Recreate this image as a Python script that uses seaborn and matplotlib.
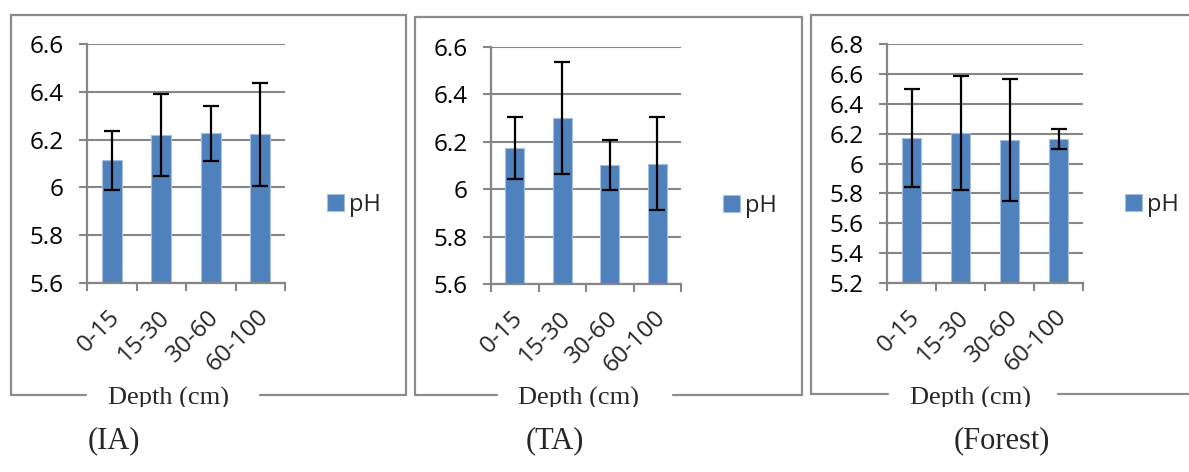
import matplotlib
matplotlib.use("Agg")
import numpy as np
import pandas as pd
import matplotlib.pyplot as plt
import matplotlib.ticker as mticker
from matplotlib.lines import Line2D
from matplotlib.transforms import Bbox, ScaledTranslation
import seaborn as sns

sns.set_style("white")
plt.rcParams['font.family'] = ['Open Sans', 'DejaVu Sans']

# ---- values ----
depths = ["0-15", "15-30", "30-60", "60-100"]

ph_ia = [6.113, 6.220, 6.226, 6.222]
err_ia = [0.122, 0.172, 0.116, 0.216]

ph_ta = [6.175, 6.300, 6.101, 6.108]
err_ta = [0.130, 0.235, 0.106, 0.195]

ph_forest = [6.173, 6.203, 6.158, 6.165]
err_forest = [0.328, 0.380, 0.410, 0.068]

site_names = ["(IA)", "(TA)", "(Forest)"]
y_ranges = [(5.6, 6.6), (5.6, 6.6), (5.2, 6.8)]

# ---- layout (pixels on the 1189x472 canvas) ----
W, H = 1189, 472
BAR = "#4F81BD"
GREY = "#868686"
FRAME = "#8C8C8C"

layout = [
    dict(ax=(87, 44, 285, 283), frame=(11, 15, 406, 395), gap=(86, 260),
         depth_x=168, leg=(327, 205), name_x=114, right_edge=True),
    dict(ax=(491, 47, 681, 284), frame=(415, 17, 802, 395), gap=(497, 673),
         depth_x=578, leg=(723, 206), name_x=555, right_edge=True),
    dict(ax=(887, 44, 1083, 283), frame=(811, 15, 1189, 394), gap=(888, 1058),
         depth_x=971, leg=(1125, 205), name_x=1002, right_edge=False),
]


def fx(px):
    return px / W


def fy(py):
    return 1 - py / H


fig = plt.figure(figsize=(W / 100, H / 100), dpi=100)

series = [(ph_ia, err_ia), (ph_ta, err_ta), (ph_forest, err_forest)]

for (vals, errs), ylim, name, lay in zip(series, y_ranges, site_names, layout):
    l, t, r, b = lay["ax"]
    ax = fig.add_axes([fx(l), fy(b), fx(r - l), (b - t) / H])

    df = pd.DataFrame({"Depth": depths, "pH": vals})
    sns.barplot(data=df, x="Depth", y="pH", color=BAR, saturation=1,
                width=0.4, edgecolor="#A7BFDE", linewidth=0.8, ax=ax)
    ax.errorbar(np.arange(len(depths)), vals, yerr=errs, fmt="none",
                ecolor="black", elinewidth=1.6, capsize=5.5, capthick=1.6,
                zorder=4)

    ax.set_xlim(-0.5, len(depths) - 0.5)
    ax.set_ylim(*ylim)
    ax.yaxis.set_major_locator(mticker.MultipleLocator(0.2))
    ax.yaxis.set_major_formatter(mticker.FuncFormatter(lambda v, p: f"{round(v, 1):g}"))
    ax.set_xlabel("")
    ax.set_ylabel("")

    ax.grid(axis="y", color=GREY, linewidth=1.5)
    ax.set_axisbelow(True)
    for s in ["top", "right"]:
        ax.spines[s].set_visible(False)
    for s in ["left", "bottom"]:
        ax.spines[s].set_color(GREY)
        ax.spines[s].set_linewidth(1.6)

    ax.tick_params(axis="y", length=6, width=1.5, color=GREY, pad=11,
                   labelsize=17.5, labelcolor="black", left=True)
    ax.xaxis.set_minor_locator(mticker.FixedLocator(np.arange(len(depths) + 1) - 0.5))
    ax.tick_params(axis="x", which="minor", length=6, width=1.5, color=GREY,
                   bottom=True)
    ax.tick_params(axis="x", which="major", length=0, pad=22)
    shift = ScaledTranslation(5 / 100, 0, fig.dpi_scale_trans)
    for lab in ax.get_xticklabels():
        lab.set_fontsize(17.5)
        lab.set_rotation(45)
        lab.set_ha("right")
        lab.set_va("center")
        lab.set_rotation_mode("anchor")
        lab.set_transform(lab.get_transform() + shift)

    lx, ly = lay["leg"]
    ax.legend([ax.patches[0]], ["pH"], loc="center left",
              bbox_to_anchor=(fx(lx), fy(ly)), bbox_transform=fig.transFigure,
              frameon=False, fontsize=17, handlelength=0.7, handleheight=0.7,
              handletextpad=0.25, borderpad=0, borderaxespad=0)

    # outer chart frame, open at the bottom for the axis title
    x0, y0, x1, y1 = lay["frame"]
    g0, g1 = lay["gap"]
    segs = [((x0, x0), (y0, y1)), ((x0, x1), (y0, y0)),
            ((x0, g0), (y1, y1)), ((g1, x1), (y1, y1))]
    if lay["right_edge"]:
        segs.append(((x1, x1), (y0, y1)))
    for xs, ys in segs:
        fig.add_artist(Line2D([fx(v) for v in xs], [fy(v) for v in ys],
                              color=FRAME, linewidth=1.6,
                              transform=fig.transFigure))

    txt = fig.text(fx(lay["depth_x"]), fy(405), "Depth (cm)", ha="center",
                   va="baseline", fontsize=19, family=["Liberation Serif"])
    txt.set_clip_box(Bbox.from_extents(0, H - 407, W, H))
    txt.set_clip_on(True)

    fig.text(fx(lay["name_x"]), fy(441), name, ha="center", va="center",
             fontsize=22, family=["Liberation Serif"])

fig.savefig("out.png", dpi=100)
